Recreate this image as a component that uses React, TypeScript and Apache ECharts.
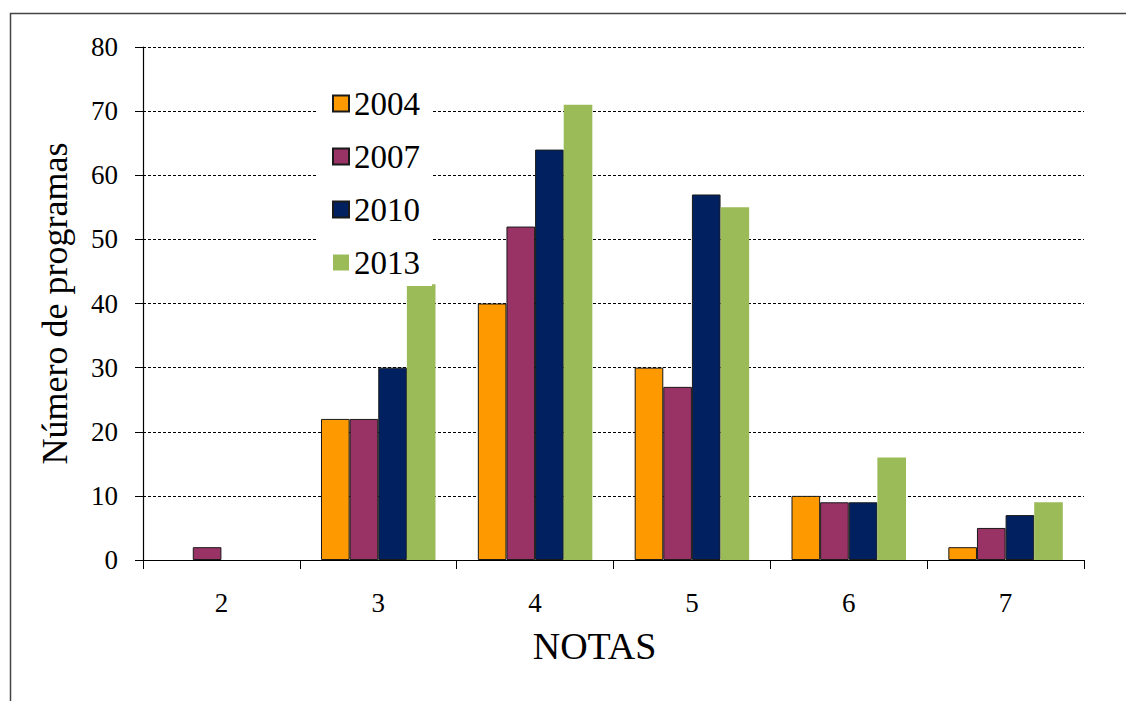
import React, { useEffect, useRef } from "react";
import * as echarts from "echarts";

const categories = ["2", "3", "4", "5", "6", "7"];
const years = ["2004", "2007", "2010", "2013"];
const v2004 = [0, 22, 40, 30, 10, 2];
const v2007 = [2, 22, 52, 27, 9, 5];
const v2010 = [0, 30, 64, 57, 9, 7];
const v2013 = [0, 43, 71, 55, 16, 9];
const seriesValues = [v2004, v2007, v2010, v2013];
const colors = ["#FF9900", "#993366", "#002060", "#9BBB59"];

const FONT = "Liberation Serif";

export default function App() {
  const ref = useRef<HTMLDivElement>(null);
  useEffect(() => {
    if (!ref.current) return;
    const chart = echarts.init(ref.current, undefined, { renderer: "svg" });
    chart.setOption({
      animation: false,
      backgroundColor: "#fff",
      textStyle: { fontFamily: FONT, color: "#000" },
      graphic: [
        {
          type: "rect",
          shape: { x: 10.5, y: 13.5, width: 1130, height: 700 },
          style: { fill: "none", stroke: "#444", lineWidth: 1.5 },
          z: 100,
        },
      ],
      grid: { left: 143, top: 47, right: 42, bottom: 141, containLabel: false },
      legend: {
        data: years,
        orient: "vertical",
        left: 318,
        top: 80,
        padding: [7, 12, 7, 14],
        backgroundColor: "#fff",
        itemWidth: 16,
        itemHeight: 16,
        itemGap: 20,
        itemTextGap: 10,
        icon: "rect",
        textStyle: { fontSize: 33, fontFamily: FONT, color: "#000", lineHeight: 32 },
        z: 10,
      },
      xAxis: {
        type: "category",
        data: categories,
        name: "NOTAS",
        nameLocation: "middle",
        nameGap: 67,
        nameTextStyle: { fontSize: 38, fontFamily: FONT, color: "#000", padding: [0, 38, 0, 0] },
        axisLine: { lineStyle: { color: "#000", width: 1.2 } },
        axisTick: { show: true, length: 9, inside: false, lineStyle: { color: "#000" } },
        axisLabel: { fontSize: 27, fontFamily: FONT, color: "#000", margin: 29 },
      },
      yAxis: {
        type: "value",
        min: 0,
        max: 80,
        interval: 10,
        name: "Número de programas",
        nameLocation: "middle",
        nameRotate: 90,
        nameGap: 70,
        nameTextStyle: { fontSize: 36, fontFamily: FONT, color: "#000" },
        axisLine: { show: true, lineStyle: { color: "#000", width: 1.2 } },
        axisTick: { show: true, length: 8, inside: false, lineStyle: { color: "#000" } },
        axisLabel: { fontSize: 27, fontFamily: FONT, color: "#000", margin: 25 },
        splitLine: { show: true, lineStyle: { color: "#000", width: 1, type: [3, 2] } },
      },
      series: years.map((y, i) => ({
        name: y,
        type: "bar",
        data: seriesValues[i].map((v) => (v === 0 ? null : v)),
        barGap: "0%",
        barCategoryGap: "27%",
        itemStyle: {
          color: colors[i],
          borderColor: i < 3 ? "#1a1a1a" : colors[i],
          borderWidth: i < 3 ? 1 : 0,
        },
      })),
    });
    return () => chart.dispose();
  }, []);
  return (
    <div
      ref={ref}
      style={{ position: "fixed", left: 0, top: 0, width: 1126, height: 701 }}
    />
  );
}
